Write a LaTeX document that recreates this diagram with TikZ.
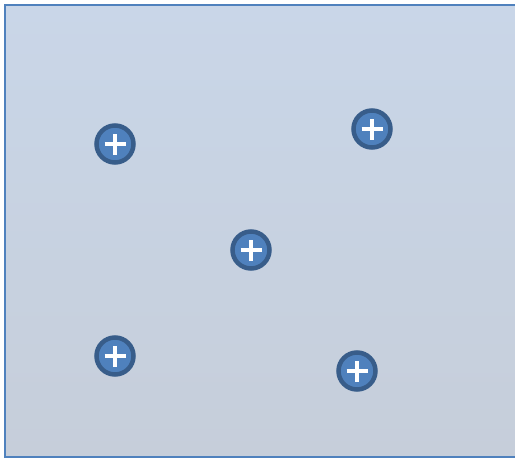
\documentclass[tikz,border=0pt]{standalone}
\usepackage{tikz}
\usetikzlibrary{positioning}

\definecolor{boxtop}{HTML}{C9D6E8}
\definecolor{boxbot}{HTML}{C6CEDA}
\definecolor{boxline}{HTML}{4F81BD}
\definecolor{ionfill}{HTML}{4F81BD}
\definecolor{ionring}{HTML}{385D8A}

\tikzset{
  ion/.style={circle, draw=ionring, line width=4.5pt, fill=ionfill,
    minimum size=37pt, inner sep=0pt,
    path picture={
      \draw[white, line width=3.3pt]
        ([xshift=-10.5pt]path picture bounding box.center) --
        ([xshift=10.5pt]path picture bounding box.center)
        ([yshift=-10.5pt]path picture bounding box.center) --
        ([yshift=10.5pt]path picture bounding box.center);
    }},
}

\begin{document}
\begin{tikzpicture}[x=1pt, y=-1pt]
  \useasboundingbox (0,0) rectangle (515,459);
  % the box
  \shade[top color=boxtop, bottom color=boxbot, draw=boxline, line width=1.5pt]
    (5,5) rectangle (517,457);
  % positive ions
  \node[ion] (ionA) at (115,144) {};
  \node[ion] (ionB) at (372,129) {};
  \node[ion] (ionC) at (251,250) {};
  \node[ion] (ionD) at (115,356) {};
  \node[ion] (ionE) at (357,371) {};
\end{tikzpicture}
\end{document}
